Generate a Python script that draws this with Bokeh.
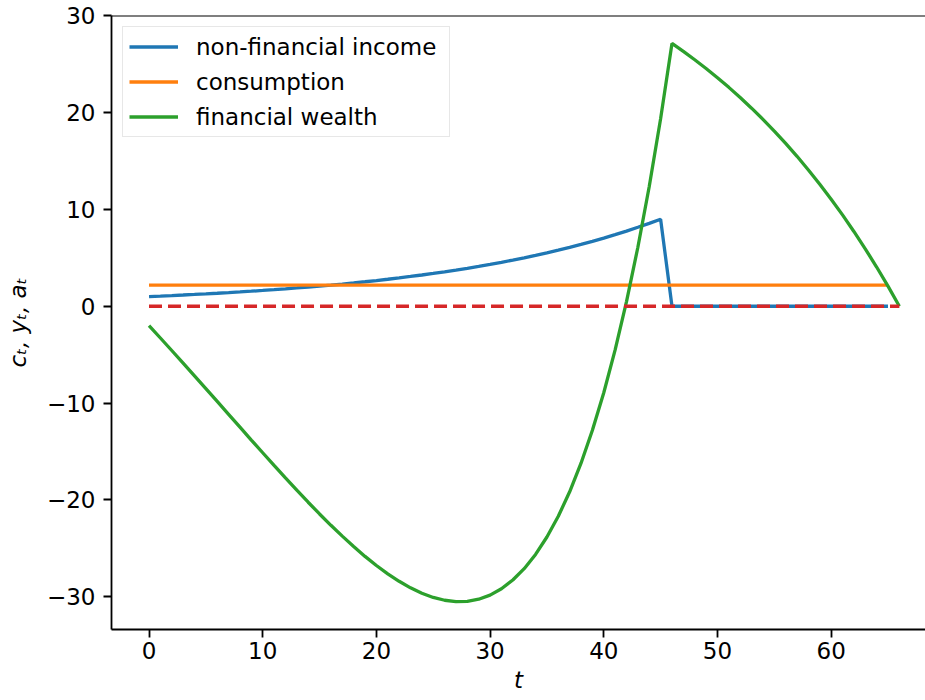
from bokeh.plotting import figure
from bokeh.models import (Range1d, Span, Legend, LegendItem, FixedTicker,
                          CustomJSTickFormatter)
from bokeh.embed import file_html
from bokeh.resources import INLINE

# ---- data ----
t_income = list(range(0, 66))
income = [1.000, 1.050, 1.103, 1.158, 1.216, 1.276, 1.340, 1.407, 1.477, 1.551,
          1.629, 1.710, 1.796, 1.886, 1.980, 2.079, 2.183, 2.292, 2.407, 2.527,
          2.653, 2.786, 2.925, 3.072, 3.225, 3.386, 3.556, 3.733, 3.920, 4.116,
          4.322, 4.538, 4.765, 5.003, 5.253, 5.516, 5.792, 6.081, 6.385, 6.705,
          7.040, 7.392, 7.762, 8.150, 8.557, 8.985,
          0, 0, 0, 0, 0, 0, 0, 0, 0, 0,
          0, 0, 0, 0, 0, 0, 0, 0, 0, 0]

t_cons = list(range(0, 66))
consumption = [2.18, 2.18, 2.18, 2.18, 2.18, 2.18, 2.18, 2.18, 2.18, 2.18, 2.18,
               2.18, 2.18, 2.18, 2.18, 2.18, 2.18, 2.18, 2.18, 2.18, 2.18, 2.18,
               2.18, 2.18, 2.18, 2.18, 2.18, 2.18, 2.18, 2.18, 2.18, 2.18, 2.18,
               2.18, 2.18, 2.18, 2.18, 2.18, 2.18, 2.18, 2.18, 2.18, 2.18, 2.18,
               2.18, 2.18, 2.18, 2.18, 2.18, 2.18, 2.18, 2.18, 2.18, 2.18, 2.18,
               2.18, 2.18, 2.18, 2.18, 2.18, 2.18, 2.18, 2.18, 2.18, 2.18, 2.18]

t_wealth = list(range(0, 67))
wealth = [-2.00, -3.28, -4.57, -5.87, -7.19, -8.51, -9.83, -11.16, -12.49, -13.82,
          -15.13, -16.44, -17.73, -18.99, -20.24, -21.45, -22.62, -23.74, -24.81, -25.83,
          -26.77, -27.63, -28.40, -29.08, -29.64, -30.07, -30.36, -30.50, -30.47, -30.25,
          -29.83, -29.17, -28.27, -27.10, -25.63, -23.83, -21.69, -19.16, -16.21, -12.81,
          -8.93, -4.51, 0.48, 6.09, 12.36, 19.36, 27.14, 26.32, 25.45, 24.55,
          23.60, 22.60, 21.55, 20.45, 19.30, 18.09, 16.81, 15.48, 14.07, 12.60,
          11.05, 9.43, 7.72, 5.93, 4.05, 2.07, 0.00]

t_zero = list(range(0, 67))
zero_line = [0] * 67

x_ticks = [0, 10, 20, 30, 40, 50, 60]
y_ticks = [-30, -20, -10, 0, 10, 20, 30]
series_labels = ["non-financial income", "consumption", "financial wealth"]

FONT = "DejaVu Sans"
FS = "23px"

p = figure(width=925, height=700, output_backend="svg", toolbar_location=None,
           x_range=Range1d(-3.3, 68.3), y_range=Range1d(-33.38, 30.02),
           min_border_left=111, min_border_right=0, min_border_top=15,
           min_border_bottom=71)
p.outline_line_color = None
p.grid.visible = False
p.background_fill_color = "white"
p.border_fill_color = "white"

r_y = p.line(t_income, income, line_color="#1f77b4", line_width=3.3)
r_c = p.line(t_cons, consumption, line_color="#ff7f0e", line_width=3.3)
r_a = p.line(t_wealth, wealth, line_color="#2ca02c", line_width=3.3)
p.line(t_zero, zero_line, line_color="#d62728", line_width=3.3, line_dash="13 6")

# top spine
p.add_layout(Span(location=30.02, dimension="width", line_color="black", line_width=1.8))

for ax in (p.xaxis[0], p.yaxis[0]):
    ax.axis_line_width = 1.8
    ax.axis_line_color = "black"
    ax.major_tick_line_width = 1.8
    ax.major_tick_line_color = "black"
    ax.major_tick_out = 8
    ax.major_tick_in = 0
    ax.minor_tick_line_color = None
    ax.major_label_text_font = FONT
    ax.major_label_text_font_size = FS
    ax.major_label_text_color = "black"
    ax.axis_label_text_font = FONT
    ax.axis_label_text_font_size = FS
    ax.axis_label_text_color = "black"
    ax.axis_label_text_font_style = "italic"

p.xaxis[0].ticker = FixedTicker(ticks=x_ticks)
p.yaxis[0].ticker = FixedTicker(ticks=y_ticks)
p.xaxis[0].major_label_standoff = 4
p.xaxis[0].axis_label = "t"
p.xaxis[0].axis_label_standoff = 5
p.yaxis[0].major_label_standoff = 8
fmt = CustomJSTickFormatter(code="return (tick < 0 ? '\u2212' : '') + Math.abs(tick).toString();")
p.yaxis[0].formatter = fmt
p.yaxis[0].axis_label = "c\u209c, y\u209c, a\u209c"
p.yaxis[0].axis_label_standoff = 13

legend = Legend(items=[LegendItem(label=series_labels[0], renderers=[r_y]),
                       LegendItem(label=series_labels[1], renderers=[r_c]),
                       LegendItem(label=series_labels[2], renderers=[r_a])],
                location="top_left", margin=11, padding=6, spacing=8,
                glyph_width=49, glyph_height=27, label_height=27,
                label_standoff=18, label_width=247,
                label_text_font=FONT, label_text_font_size=FS, label_text_color="black",
                border_line_color="#d0d0d0", border_line_width=1.5,
                background_fill_color="white", background_fill_alpha=0.8)
p.add_layout(legend, "center")

open("out.html", "w").write(file_html(p, INLINE))
